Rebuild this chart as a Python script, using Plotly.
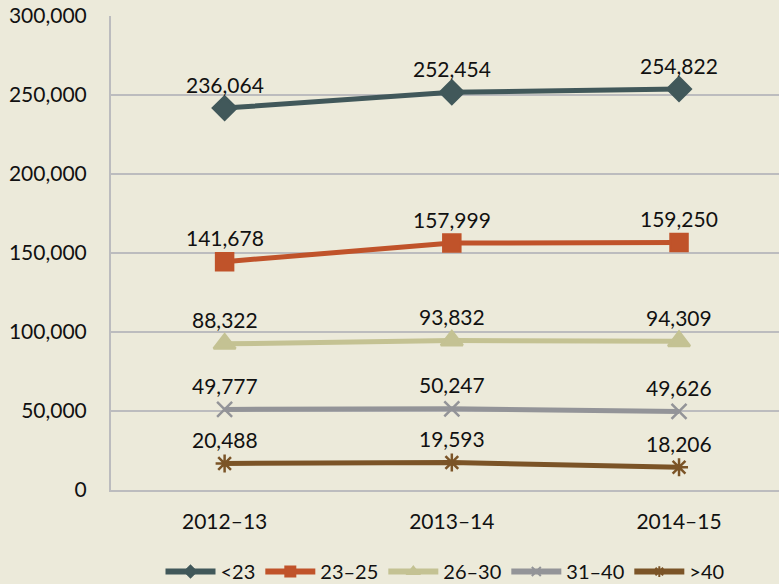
import plotly.graph_objects as go

categories = ["2012–13", "2013–14", "2014–15"]
series_names = ["<23", "23–25", "26–30", "31–40", ">40"]

# plotted positions
vals_lt23 = [241700, 251700, 253800]
vals_23_25 = [144500, 156300, 156700]
vals_26_30 = [92500, 94600, 94200]
vals_31_40 = [51000, 51400, 49700]
vals_gt40 = [16800, 17400, 14400]

# data label texts as printed on the chart
labels_lt23 = ["236,064", "252,454", "254,822"]
labels_23_25 = ["141,678", "157,999", "159,250"]
labels_26_30 = ["88,322", "93,832", "94,309"]
labels_31_40 = ["49,777", "50,247", "49,626"]
labels_gt40 = ["20,488", "19,593", "18,206"]

y_ticks = [0, 50000, 100000, 150000, 200000, 250000, 300000]

colors = ["#41585A", "#C0532A", "#C4C293", "#939498", "#7B5427"]
symbols = ["diamond", "square", "triangle-up", "x-thin-open", "asterisk-open"]
sizes = [18, 17, 19, 15, 15]
legend_sizes = [9, 10, 10, 9, 9]

all_vals = [vals_lt23, vals_23_25, vals_26_30, vals_31_40, vals_gt40]
all_labels = [labels_lt23, labels_23_25, labels_26_30, labels_31_40, labels_gt40]

FONT = "Lato"
fig = go.Figure()
annotations = []
for name, vals, labs, col, sym, sz, lsz in zip(series_names, all_vals, all_labels, colors,
                                                symbols, sizes, legend_sizes):
    fig.add_trace(go.Scatter(
        x=categories, y=vals, name=name, mode="lines+markers", showlegend=False,
        line=dict(color=col, width=5),
        marker=dict(symbol=sym, size=sz, color=col, line=dict(color=col, width=2.5)),
    ))
    # legend entry (no visible data mark)
    fig.add_trace(go.Scatter(
        x=[categories[0]], y=[None], name=name, mode="lines+markers", showlegend=True,
        line=dict(color=col, width=6),
        marker=dict(symbol=sym, size=lsz, color=col, line=dict(color=col, width=2)),
    ))
    for c, v, t in zip(categories, vals, labs):
        annotations.append(dict(x=c, y=v, text=t, showarrow=False, yshift=24,
                                font=dict(family=FONT, size=21, color="#111111")))

fig.update_layout(
    width=779, height=584,
    paper_bgcolor="#ECEADA", plot_bgcolor="#ECEADA",
    margin=dict(l=111, r=0, t=16, b=94, autoexpand=False),
    font=dict(family=FONT, size=21, color="#111111"),
    annotations=annotations,
    showlegend=True,
    legend=dict(orientation="h", x=0.5, xanchor="center", y=-0.172, yanchor="middle",
                font=dict(family=FONT, size=20), itemwidth=50, tracegroupgap=0,
                bgcolor="rgba(0,0,0,0)"),
    xaxis=dict(range=[-0.5, 2.44], showgrid=False, showline=True, linecolor="#BCBCBE",
               linewidth=2, ticks="", tickfont=dict(size=21), ticklabelstandoff=12,
               automargin=False),
    yaxis=dict(range=[0, 300000], tickvals=y_ticks, tickformat=",d", showgrid=True,
               gridcolor="#BCBCBE", gridwidth=2, showline=True, linecolor="#BCBCBE",
               linewidth=2, zeroline=False, ticks="", tickfont=dict(size=21),
               ticklabelstandoff=18, automargin=False),
)
fig.write_html("out.html", config={"displayModeBar": False},
               post_script="document.body.style.margin='0px';document.body.style.background='#ECEADA';")
